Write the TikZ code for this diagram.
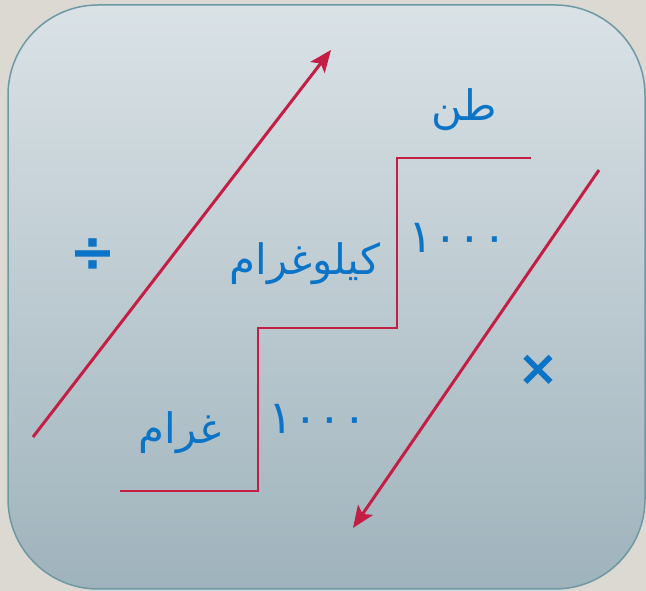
\documentclass[tikz,border=0pt]{standalone}
\usepackage{fontspec}
\usetikzlibrary{arrows.meta}
\TeXXeTstate=1
\newfontfamily\arabicfont[Script=Arabic]{DejaVu Sans}
\newfontfamily\symfont{DejaVu Sans}

\definecolor{pagegray}{HTML}{DCD9D3}
\definecolor{boxtop}{HTML}{DAE2E6}
\definecolor{boxbottom}{HTML}{9FB3BC}
\definecolor{boxedge}{HTML}{6E98A4}
\definecolor{stepred}{HTML}{C41E45}
\definecolor{unitblue}{HTML}{0B74C6}

\begin{document}
\begin{tikzpicture}[
    x=1pt, y=1pt,
    >={Stealth[length=22pt, width=18pt, inset=5pt]},
    unit/.style={font=\arabicfont\fontsize{42}{48}\selectfont, text=unitblue},
    factor/.style={font=\arabicfont\fontsize{46}{52}\selectfont, text=unitblue},
    opsign/.style={font=\symfont\bfseries\fontsize{#1}{#1}\selectfont, text=unitblue},
    stairline/.style={stepred, line width=2.4pt},
    convarrow/.style={->, stepred, line width=3pt},
]

% === Page and panel ===
\fill[pagegray] (0,0) rectangle (646,591);
\useasboundingbox (0,0) rectangle (646,591);
\shade[top color=boxtop, bottom color=boxbottom, draw=boxedge, line width=1.5pt,
    rounded corners=90pt] (8,2) rectangle (645,586);

% === Staircase ===
\coordinate (s0) at (120,100);
\coordinate (s1) at (258,100);
\coordinate (s2) at (258,263);
\coordinate (s3) at (397,263);
\coordinate (s4) at (397,433);
\coordinate (s5) at (531,433);
\draw[stairline] (s0) -- (s1) -- (s2) -- (s3) -- (s4) -- (s5);

% === Unit labels ===
\node[unit] (ton) at (464,481) {\beginR طن\endR};
\node[unit] (kilogram) at (305,327) {\beginR كيلوغرام\endR};
\node[unit] (gram) at (180,158) {\beginR غرام\endR};
\node[factor] (factorTop) at (458,353) {١٠٠٠};
\node[factor] (factorLow) at (318,172) {١٠٠٠};

% === Conversion arrows ===
\coordinate (upStart) at (33,154);
\coordinate (upEnd) at (331,541);
\draw[convarrow] (upStart) -- (upEnd);
\node[opsign=56] (divide) at (93,336) {÷};

\coordinate (downStart) at (599,421);
\coordinate (downEnd) at (353,63);
\draw[convarrow] (downStart) -- (downEnd);
\node[opsign=50] (times) at (538,221) {×};

\end{tikzpicture}
\end{document}
